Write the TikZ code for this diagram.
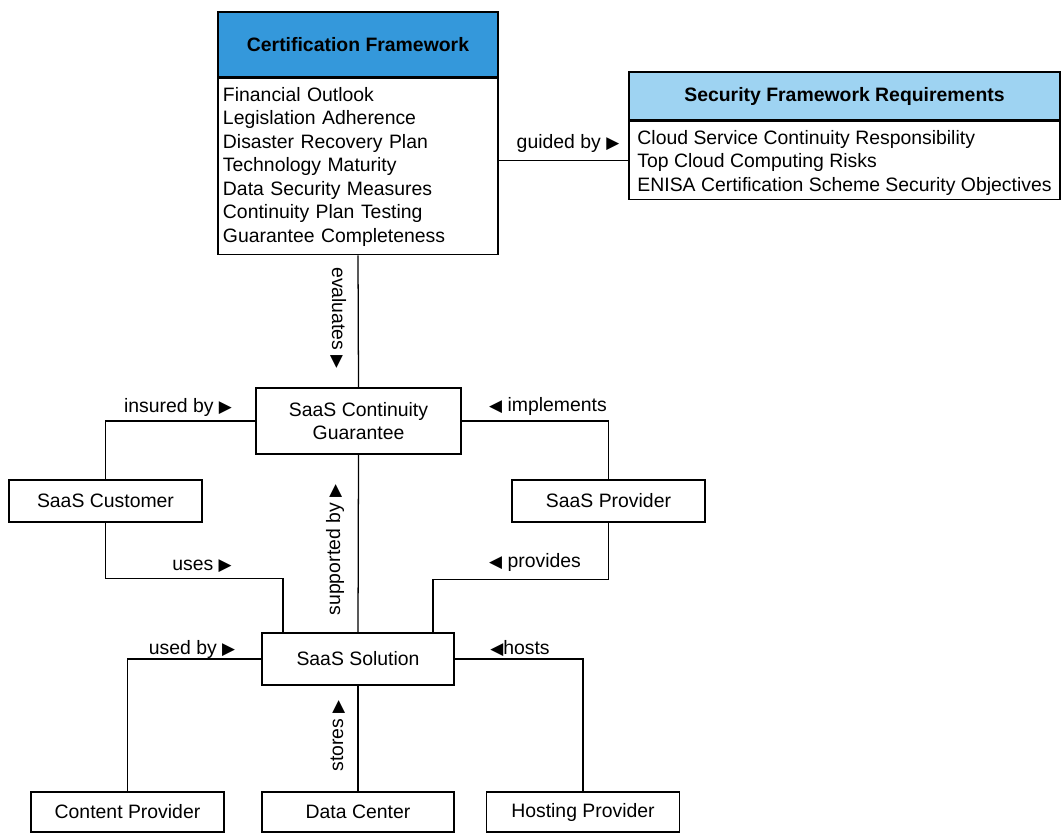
\documentclass[tikz,border=0pt]{standalone}
\usepackage{fontspec}
\setmainfont{Liberation Sans}
\newfontfamily\symfont{DejaVu Sans}
\usepackage{tikz}
\usepackage{xcolor}
\usetikzlibrary{positioning}
\definecolor{mblue}{RGB}{52,152,219}
\definecolor{mlightblue}{RGB}{158,211,242}
\newcommand{\rtri}{{\symfont\fontsize{12}{12}\selectfont ▶}}
\newcommand{\ltri}{{\symfont\fontsize{12}{12}\selectfont ◀}}

\begin{document}
\begin{tikzpicture}[x=0.025cm, y=-0.025cm, font=\fontsize{13.8}{16.7}\selectfont]
  \tikzset{entity/.style={draw,line width=1.1pt,minimum width=4.825cm,minimum height=1.05cm,align=center,inner sep=2pt}}
  \tikzset{class head/.style={draw,line width=1.1pt,fill=#1,font=\fontsize{13.8}{16.7}\selectfont\bfseries,inner sep=0pt}}
  \tikzset{class body/.style={draw,line width=1.1pt,fill=white,align=left,inner sep=0pt}}
  \tikzset{rel/.style={line width=0.9pt}}
  \tikzset{rel label/.style={inner sep=1pt}}

  \useasboundingbox (0,0) rectangle (1062,833);

  \node [class head = mblue, minimum width=7cm, minimum height=1.625cm] (certhead) at (358,44.5) {Certification Framework};
  \node [class body, below=0pt of certhead, text width=6.75cm, minimum height=4.4cm, inner xsep=0.125cm] (certbody) {Financial Outlook\\ Legislation Adherence\\ Disaster Recovery Plan\\ Technology Maturity\\ Data Security Measures\\ Continuity Plan Testing\\ Guarantee Completeness};
  \node [class head = mlightblue, minimum width=10.775cm, minimum height=1.2cm] (sechead) at (844.5,96) {Security Framework Requirements};
  \node [class body, below=0pt of sechead, minimum width=10.775cm, minimum height=1.95cm, text depth=0pt] (secbody) {Cloud Service Continuity Responsibility\\ Top Cloud Computing Risks\\ ENISA Certification Scheme Security Objectives};

  \node [entity, minimum width=5.125cm, minimum height=1.65cm] (guarantee) at (358.5,421) {SaaS Continuity\\ Guarantee};
  \node [entity] (customer) at (105.5,501) {SaaS Customer};
  \node [entity] (provider) at (608.5,501) {SaaS Provider};
  \node [entity, minimum width=4.8cm, minimum height=1.3cm] (solution) at (358,659) {SaaS Solution};
  \node [entity, minimum height=1cm] (content) at (127.5,812) {Content Provider};
  \node [entity, minimum width=4.8cm, minimum height=1cm] (datacenter) at (358,812) {Data Center};
  \node [entity, minimum height=1cm] (hosting) at (583,812) {Hosting Provider};

  % connectors
  \draw [rel] (certbody.east |- secbody.west) -- (secbody.west);
  \draw [rel] (certbody.south) -- (guarantee.north);
  \draw [rel] (guarantee.west) -| (customer.north);
  \draw [rel] (guarantee.east) -| (provider.north);
  \draw [rel] (customer.south) |- ([xshift=-1.875cm,yshift=1.35cm]solution.north) -- ([xshift=-1.875cm]solution.north);
  \draw [rel] (provider.south) |- ([xshift=1.875cm,yshift=1.325cm]solution.north) -- ([xshift=1.875cm]solution.north);
  \draw [rel] (guarantee.south) -- (solution.north);
  \draw [rel] (solution.west) -| (content.north);
  \draw [rel] (solution.east) -| (hosting.north);
  \draw [rel] (datacenter.north) -- (solution.south);

  % labels
  \node [rel label] (guidedby) at (568,143) {guided by \rtri};
  \node [rel label, rotate=-90] (evaluates) at (338,318) {evaluates \rtri};
  \node [rel label] (insuredby) at (178,407) {insured by \rtri};
  \node [rel label] (implements) at (548,406) {\ltri\ implements};
  \node [rel label] (uses) at (202,566) {uses \rtri};
  \node [rel label] (provides) at (535,562) {\ltri\ provides};
  \node [rel label, rotate=90] (supportedby) at (335,550) {supported by \rtri};
  \node [rel label] (usedby) at (192,649) {used by \rtri};
  \node [rel label] (hosts) at (520,648) {\ltri hosts};
  \node [rel label, rotate=90] (stores) at (338,736) {stores \rtri};
\end{tikzpicture}
\end{document}
